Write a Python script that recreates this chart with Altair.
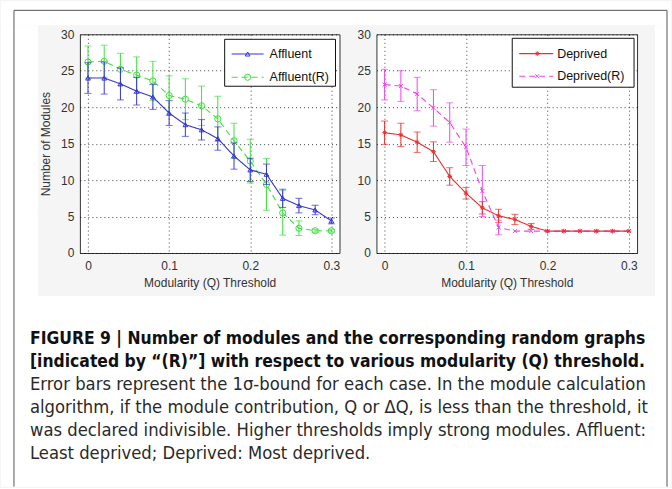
import altair as alt
import pandas as pd

# ---------------- data ----------------
thresholds = [0.00, 0.02, 0.04, 0.06, 0.08, 0.10, 0.12, 0.14,
              0.16, 0.18, 0.20, 0.22, 0.24, 0.26, 0.28, 0.30]

affluent = [24.0, 24.0, 23.2, 22.2, 21.4, 19.2, 17.6, 16.9,
            15.7, 13.3, 11.4, 10.8, 7.5, 6.5, 5.9, 4.4]
affluent_err = [2.1, 2.2, 2.2, 1.9, 1.7, 1.7, 1.6, 1.4,
                1.6, 1.8, 1.6, 1.4, 1.25, 1.0, 0.65, 0.4]

affluent_r = [26.2, 26.3, 25.2, 24.4, 23.6, 21.6, 21.1, 20.2,
              18.4, 15.4, 12.6, 9.4, 5.5, 3.4, 3.05, 3.05]
affluent_r_err = [2.2, 2.2, 2.2, 2.5, 2.7, 2.7, 2.8, 2.7,
                  3.1, 2.4, 3.0, 3.55, 3.05, 1.0, 0.2, 0.2]

deprived = [16.5, 16.2, 15.2, 13.9, 10.5, 8.2, 6.2, 5.1,
            4.6, 3.65, 3.0, 3.0, 3.0, 3.0, 3.0, 3.0]
deprived_err = [1.6, 1.6, 1.4, 1.35, 1.2, 0.8, 0.85, 0.9,
                0.7, 0.4, 0.0, 0.0, 0.0, 0.0, 0.0, 0.0]

deprived_r = [23.1, 22.9, 21.8, 19.9, 17.9, 14.5, 8.5, 3.5,
              3.0, 3.0, 3.0, 3.0, 3.0, 3.0, 3.0, 3.0]
deprived_r_err = [2.1, 2.1, 2.3, 2.5, 2.7, 2.5, 3.5, 1.0,
                  0.0, 0.0, 0.0, 0.0, 0.0, 0.0, 0.0, 0.0]

x_ticks = [0, 0.1, 0.2, 0.3]
y_ticks = [0, 5, 10, 15, 20, 25, 30]

x_title = "Modularity (Q) Threshold"
y_title = "Number of Modules"

caption_bold = [
    "FIGURE 9 | Number of modules and the corresponding random graphs",
    "[indicated by \u201c(R)\u201d] with respect to various modularity (Q) threshold.",
]
caption_regular = [
    "Error bars represent the 1\u03c3-bound for each case. In the module calculation",
    "algorithm, if the module contribution, Q or \u0394Q, is less than the threshold, it",
    "was declared indivisible. Higher thresholds imply strong modules. Affluent:",
    "Least deprived; Deprived: Most deprived.",
]

# ---------------- styling ----------------
FONT = "Liberation Sans"
CAP_FONT = "DejaVu Sans Condensed, Liberation Sans"
PW_L, PW_R, PH = 260, 261, 219
OX, OY = 79, 33  # page position of the left plot area

ASTER = "M-1,0L1,0M0,-1L0,1M-0.7,-0.7L0.7,0.7M-0.7,0.7L0.7,-0.7"
XSHAPE = "M-1,-1L1,1M-1,1L1,-1"

series_styles = {
    "Affluent": dict(color="#3535d0", shape="triangle-up", dash=[1, 0], filled=False, size=22),
    "Affluent(R)": dict(color="#3ee03e", shape="circle", dash=[6, 4], filled=False, size=38),
    "Deprived": dict(color="#e8302e", shape=ASTER, dash=[1, 0], filled=False, size=22),
    "Deprived(R)": dict(color="#ee44ee", shape=XSHAPE, dash=[6, 4], filled=False, size=16),
}

xscale = alt.Scale(domain=[-0.01, 0.31], nice=False, zero=False)
yscale = alt.Scale(domain=[0, 30], nice=False)


def x_enc():
    return alt.X("q:Q", scale=xscale,
                 axis=alt.Axis(values=x_ticks, format="~g", grid=True, gridDash=[1, 3],
                               gridColor="#000", gridOpacity=0.75, ticks=False, domain=False,
                               labelFont=FONT, labelFontSize=12, labelColor="#333",
                               labelPadding=8, titleFont=FONT, titleFontSize=12,
                               titleFontWeight="normal", titleColor="#333", titlePadding=6),
                 title=x_title)


def y_enc(field, show_title):
    kw = dict(values=y_ticks, grid=True, gridDash=[1, 3], gridColor="#000",
              gridOpacity=0.75, ticks=False, domain=False, labelFont=FONT,
              labelFontSize=12, labelColor="#333", labelPadding=6,
              titleFont=FONT, titleFontSize=12, titleFontWeight="normal",
              titleColor="#333", titlePadding=8)
    return alt.Y(field, scale=yscale, axis=alt.Axis(**kw), title=y_title if show_title else "")


def series_layers(name, vals, errs, show_title):
    st = series_styles[name]
    df = pd.DataFrame({"q": thresholds, "v": vals,
                       "lo": [v - e for v, e in zip(vals, errs)],
                       "hi": [v + e for v, e in zip(vals, errs)],
                       "e": errs})
    base = alt.Chart(df)
    line = base.mark_line(color=st["color"], strokeWidth=1.1, strokeDash=st["dash"]).encode(
        x=x_enc(), y=y_enc("v:Q", show_title))
    eb = base.transform_filter("datum.e > 0")
    rule = eb.mark_rule(color=st["color"], strokeWidth=1).encode(
        x=x_enc(), y=y_enc("lo:Q", show_title), y2="hi:Q")
    cap_lo = eb.mark_tick(color=st["color"], thickness=1, size=7, orient="horizontal").encode(
        x=x_enc(), y=y_enc("lo:Q", show_title))
    cap_hi = eb.mark_tick(color=st["color"], thickness=1, size=7, orient="horizontal").encode(
        x=x_enc(), y=y_enc("hi:Q", show_title))
    pts = base.mark_point(shape=st["shape"], filled=st["filled"], size=st["size"],
                          color=st["color"], strokeWidth=1, opacity=1).encode(
        x=x_enc(), y=y_enc("v:Q", show_title))
    return [line, rule, cap_lo, cap_hi, pts]


one = pd.DataFrame({"k": [0]})


def legend_layers(names, box, rows, line_x, marker_x, text_x):
    layers = [alt.Chart(one).mark_rect(fill="white", stroke="#111", strokeWidth=1).encode(
        x=alt.value(box[0]), x2=alt.value(box[1]), y=alt.value(box[2]), y2=alt.value(box[3]))]
    for name, ry in zip(names, rows):
        st = series_styles[name]
        layers.append(alt.Chart(one).mark_rule(color=st["color"], strokeWidth=1.1,
                                               strokeDash=st["dash"]).encode(
            x=alt.value(line_x[0]), x2=alt.value(line_x[1]), y=alt.value(ry)))
        layers.append(alt.Chart(one).mark_point(shape=st["shape"], filled=st["filled"],
                                                size=st["size"], color=st["color"],
                                                strokeWidth=1, opacity=1).encode(
            x=alt.value(marker_x), y=alt.value(ry)))
        layers.append(alt.Chart(pd.DataFrame({"t": [name]})).mark_text(
            font=FONT, fontSize=12.5, color="#111", align="left", baseline="middle").encode(
            x=alt.value(text_x), y=alt.value(ry), text="t:N"))
    return layers


# ---------------- figure frame and caption (positions relative to left plot area) ----------------
frame_layers = []
for (x0, x1, y0, y1) in [(0, 671, 0, 24), (0, 671, 295, 486), (0, 37, 24, 295), (655, 671, 24, 295)]:
    frame_layers.append(alt.Chart(one).mark_rect(fill="white", strokeOpacity=0).encode(
        x=alt.value(x0 - OX), x2=alt.value(x1 - OX), y=alt.value(y0 - OY), y2=alt.value(y1 - OY)))
for (x0, x1, y0, y1) in [(13, 13, 9, 486), (13, 667, 9, 9), (667, 667, 9, 486)]:
    frame_layers.append(alt.Chart(one).mark_rule(color="#555", strokeWidth=1).encode(
        x=alt.value(x0 - OX), x2=alt.value(x1 - OX), y=alt.value(y0 - OY), y2=alt.value(y1 - OY)))

line_y = [338, 361, 384, 407, 430, 453]
texts = caption_bold + caption_regular
for i, (t, ly) in enumerate(zip(texts, line_y)):
    bold = i < len(caption_bold)
    frame_layers.append(alt.Chart(pd.DataFrame({"t": [t]})).mark_text(
        font=CAP_FONT, fontSize=17.4 if bold else 18.3, fontWeight="bold" if bold else "normal",
        color="#111" if bold else "#2a2a2a", align="left", baseline="middle").encode(
        x=alt.value(29 - OX), y=alt.value(ly - OY), text="t:N"))

left_layers = (frame_layers
               + series_layers("Affluent(R)", affluent_r, affluent_r_err, True)
               + series_layers("Affluent", affluent, affluent_err, True)
               + legend_layers(["Affluent", "Affluent(R)"], (145, 256, 5, 52), (19.7, 43),
                               (152, 184), 168, 190))
right_layers = (series_layers("Deprived(R)", deprived_r, deprived_r_err, False)
                + series_layers("Deprived", deprived, deprived_err, False)
                + legend_layers(["Deprived", "Deprived(R)"], (136, 258, 4, 53), (19.3, 42),
                                (143, 177), 161, 181))

left = alt.layer(*left_layers).properties(width=PW_L, height=PH)
right = alt.layer(*right_layers).properties(width=PW_R, height=PH)

chart = alt.hconcat(left, right, spacing=37, bounds="flush").properties(
    padding=0, background="#f5f5f5"
).configure_view(stroke="#333", strokeWidth=1, fill="white")

chart.save("out.html", embed_options={"renderer": "svg", "actions": False})
